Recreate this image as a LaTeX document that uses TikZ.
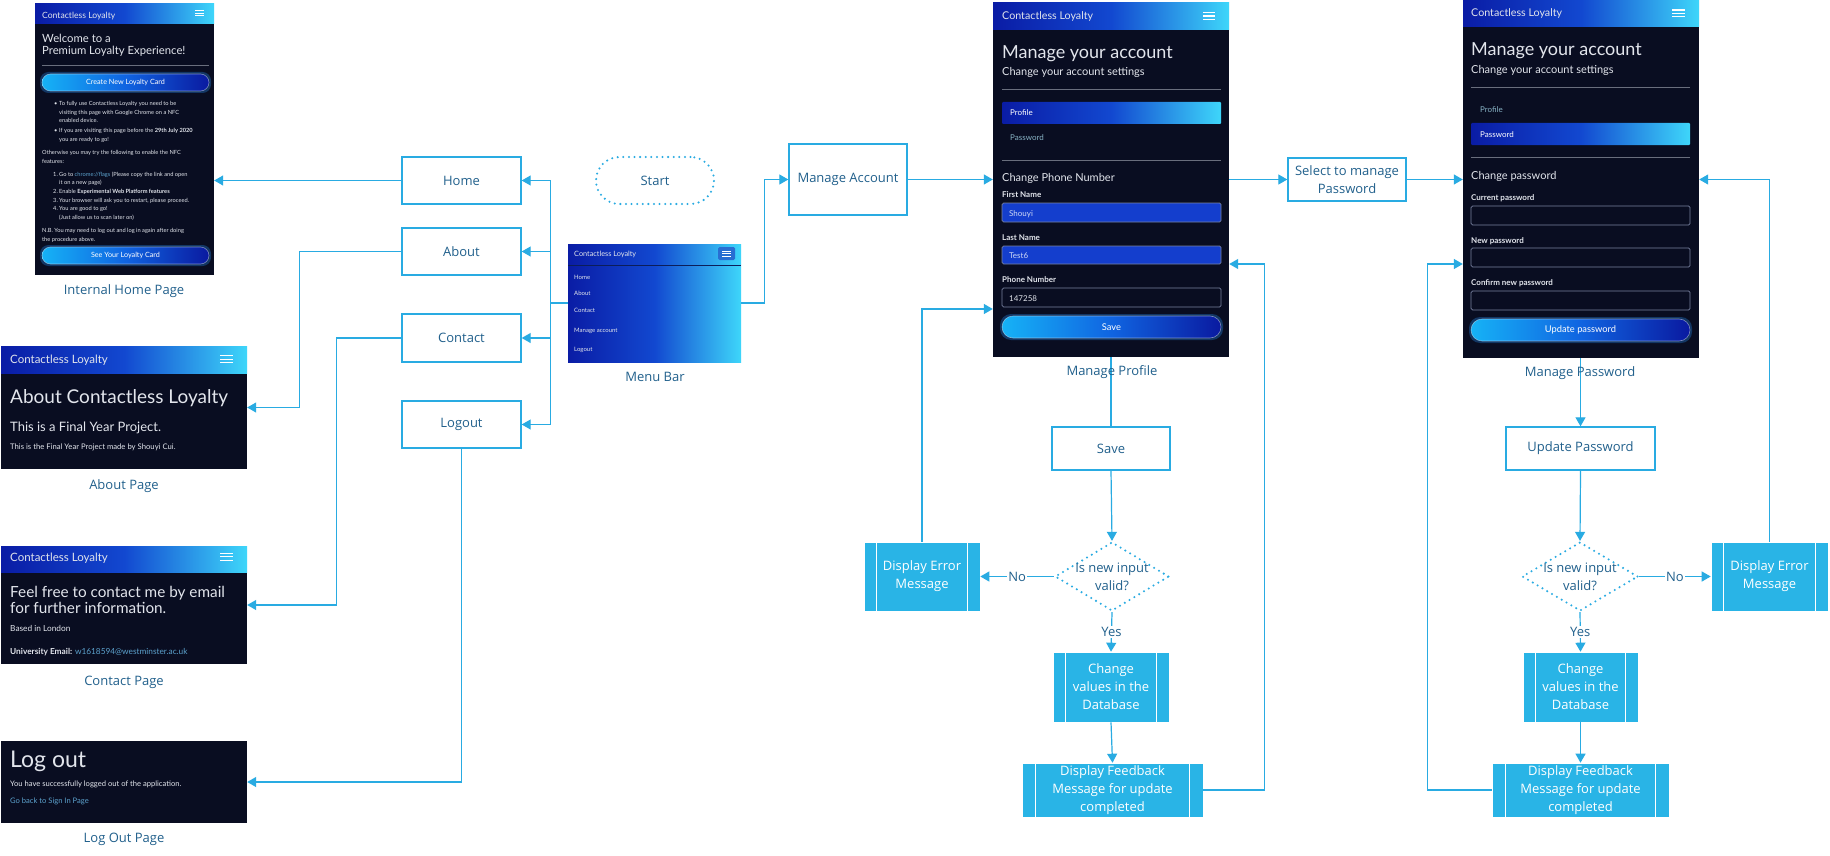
\documentclass[tikz,border=0pt]{standalone}
\usepackage{fontspec}
\setmainfont{Open Sans}
\newfontfamily\ui{Lato}
\usetikzlibrary{arrows.meta,shapes.geometric,calc}

\definecolor{lblue}{RGB}{41,171,226}
\definecolor{fblue}{RGB}{41,180,230}
\definecolor{tblue}{RGB}{33,96,140}
\definecolor{bg}{RGB}{9,13,33}
\definecolor{hdark}{RGB}{10,28,165}
\definecolor{hmid}{RGB}{18,72,208}
\definecolor{hlight}{RGB}{62,214,250}
\definecolor{bcyan}{RGB}{22,178,246}
\definecolor{bmid}{RGB}{16,100,225}
\definecolor{bdark}{RGB}{10,26,160}
\definecolor{uitext}{RGB}{226,229,236}
\definecolor{tabgray}{RGB}{135,178,196}
\definecolor{linkc}{RGB}{92,162,205}
\definecolor{rulec}{RGB}{105,110,125}
\definecolor{fieldb}{RGB}{20,62,205}
\definecolor{fieldln}{RGB}{120,130,160}
\definecolor{glowc}{RGB}{40,150,255}
\definecolor{burgerbg}{RGB}{40,110,210}
\definecolor{sepline}{RGB}{12,30,90}
\definecolor{fieldtxt}{RGB}{205,215,245}

\newcommand\uif[1]{\ui\fontsize{#1}{#1}\selectfont}
\newcommand\lblfont{\fontsize{13}{18}\selectfont}

% pill-shaped gradient button: name, x1, y1, x2, y2, radius, label, font size
\newcommand\pill[8]{%
  \fill[glowc, opacity=0.3, rounded corners=#6] (#2-2,#3-2) rectangle (#4+2,#5+2);
  \shade[btn, rounded corners=#6] (#2,#3) rectangle (#4,#5);
  \draw[white, opacity=0.45, line width=0.6pt, rounded corners=#6] (#2,#3) rectangle (#4,#5);
  \node[font=\uif{#8}, text=white, inner sep=0pt] (#1) at ({(#2+#4)/2},{(#3+#5)/2}) {#7};}
% input field: x1, y1, x2, y2, fill, border
\newcommand\field[6]{%
  \filldraw[fill=#5, draw=#6, line width=0.7pt, rounded corners=1.5pt] (#1,#2) rectangle (#3,#4);}
% hamburger icon: x1, x2, three line heights
\newcommand\burger[5]{%
  \foreach \hy in {#3,#4,#5} \draw[white, line width=1.1pt] (#1,\hy) -- (#2,\hy);}
% side bars of a predefined-process box
\newcommand\predlines[2]{%
  \draw[white, line width=1pt] ([xshift=#2]#1.north west) -- ([xshift=#2]#1.south west)
    ([xshift=-#2]#1.north east) -- ([xshift=-#2]#1.south east);}

\tikzset{
  proc/.style={draw=lblue, line width=1.4pt, fill=white, text=tblue, font=\lblfont, align=center, inner sep=0pt},
  pred/.style={draw=white, line width=0.6pt, fill=fblue, text=white, font=\lblfont, align=center, inner sep=0pt},
  conn/.style={draw=lblue, line width=1.2pt},
  arr/.style={conn, -{Triangle[width=10pt,length=9pt]}},
  lbl/.style={text=tblue, font=\lblfont, inner sep=0pt},
  dotline/.style={draw=lblue, line width=2.3pt, line cap=round, dash pattern=on 0pt off 5.6pt},
  shot/.style={fill=bg, draw=none, inner sep=0pt},
  ut/.style={anchor=base west, inner sep=0pt, text=uitext},
  hdr/.style={left color=hdark, right color=hlight, middle color=hmid},
  btn/.style={left color=bcyan, right color=bdark, middle color=bmid},
  hr/.style={draw=rulec, line width=0.9pt},
}

\begin{document}
\begin{tikzpicture}[x=1pt,y=-1pt]
\useasboundingbox[fill=white] (0,0) rectangle (1830,856);

%% ---------- Internal home page ----------
\node[shot, minimum width=179pt, minimum height=271pt] (hp) at (124.5,139.5) {};
\shade[hdr] (35,4) rectangle (214,24);
\node[ut, font=\uif{8.6}] (hpt) at (42,18.5) {Contactless Loyalty};
\burger{195}{204}{10.7}{13.2}{15.7}
\node[ut, font=\uif{11.3}] (hpw1) at (42,43) {Welcome to a};
\node[ut, font=\uif{11.3}] (hpw2) at (42,55) {Premium Loyalty Experience!};
\draw[hr] (42,65) -- (209,65);
\pill{hpb1}{42}{74}{209}{91}{8.5pt}{Create New Loyalty Card}{7.2}
\foreach \yy/\xx/\txt [count=\i] in {
  106/59/{To fully use Contactless Loyalty you need to be},
  115/59/{visiting this page with Google Chrome on a NFC},
  123/59/{enabled device.},
  132/59/{If you are visiting this page before the \textbf{29th July 2020}},
  141/59/{you are ready to go!},
  154/42/{Otherwise you may try the following to enable the NFC},
  163/42/{features:},
  176/59/{Go to \textcolor{linkc}{chrome://flags} (Please copy the link and open},
  184/59/{it on a new page)},
  193/59/{Enable \textbf{Experimental Web Platform features}},
  202/59/{Your browser will ask you to restart, please proceed.},
  210/59/{You are good to go!},
  219/59/{(Just allow us to scan later on)},
  232/42/{N.B. You may need to log out and log in again after doing},
  241/42/{the procedure above.}}
  \node[ut, font=\uif{5.7}] (hl\i) at (\xx,\yy) {\txt};
\foreach \yy [count=\i] in {106,132}
  \node[ut, font=\uif{5.7}] (hb\i) at (54,\yy) {\textbullet};
\foreach \yy [count=\i] in {176,193,202,210}
  \node[ut, font=\uif{5.7}] (hn\i) at (53,\yy) {\i.};
\pill{hpb2}{42}{247}{209}{264}{8.5pt}{See Your Loyalty Card}{7.2}
\node[lbl] (hpc) at (124,291) {Internal Home Page};

%% ---------- About page ----------
\node[shot, minimum width=246pt, minimum height=123pt] (ap) at (124,407.5) {};
\shade[hdr] (1,346) rectangle (247,373);
\node[ut, font=\uif{11.5}] (apt) at (10,363) {Contactless Loyalty};
\burger{220}{233}{355.7}{359.3}{362.9}
\node[ut, font=\uif{19}] (ap1) at (10,403) {About Contactless Loyalty};
\node[ut, font=\uif{13}] (ap2) at (10,431) {This is a Final Year Project.};
\node[ut, font=\uif{7.7}] (ap3) at (10,449) {This is the Final Year Project made by Shouyi Cui.};
\node[lbl] (apc) at (124,486) {About Page};

%% ---------- Contact page ----------
\node[shot, minimum width=246pt, minimum height=118pt] (cp) at (124,605) {};
\shade[hdr] (1,546) rectangle (247,572);
\node[ut, font=\uif{11.5}] (cpt) at (10,561) {Contactless Loyalty};
\burger{220}{233}{553.3}{556.8}{560.3}
\node[ut, font=\uif{15.3}] (cp1) at (10,597.5) {Feel free to contact me by email};
\node[ut, font=\uif{15.3}] (cp2) at (10,613.5) {for further information.};
\node[ut, font=\uif{8.3}] (cp3) at (10,631) {Based in London};
\node[ut, font=\uif{8.3}] (cp4) at (10,654) {\textbf{University Email:} \textcolor{linkc}{w1618594@westminster.ac.uk}};
\node[lbl] (cpc) at (124,682) {Contact Page};

%% ---------- Log out page ----------
\node[shot, minimum width=246pt, minimum height=82pt] (lp) at (124,782) {};
\node[ut, font=\uif{23}] (lp1) at (10,767) {Log out};
\node[ut, font=\uif{7.6}] (lp2) at (10,786) {You have successfully logged out of the application.};
\node[ut, font=\uif{7.6}, text=linkc] (lp3) at (10,803) {Go back to Sign In Page};
\node[lbl] (lpc) at (124,839) {Log Out Page};

%% ---------- Menu bar ----------
\node[inner sep=0pt, minimum width=173pt, minimum height=118pt, hdr] (mb) at (654.5,303) {};
\draw[sepline, line width=1pt] (568,265) -- (741,265);
\node[ut, font=\uif{7.3}] (mbt) at (574,256.5) {Contactless Loyalty};
\fill[burgerbg, rounded corners=1.5pt] (718,247) rectangle (735,260);
\foreach \hy in {251,253.5,256} \draw[white, line width=0.8pt] (722,\hy) -- (731,\hy);
\foreach \yy/\txt [count=\i] in {279/Home, 295/About, 312/Contact, 332/Manage account, 351/Logout}
  \node[ut, font=\uif{6}] (mi\i) at (574,\yy) {\txt};
\node[lbl] (mbc) at (655,377) {Menu Bar};

%% ---------- Manage profile page ----------
\node[shot, minimum width=236pt, minimum height=354pt] (mp) at (1111,180) {};
\shade[hdr] (993,3) rectangle (1229,30);
\node[ut, font=\uif{10.7}] (mpt) at (1002,20) {Contactless Loyalty};
\burger{1203}{1215}{12.7}{16}{19.3}
\node[ut, font=\uif{18}] (mp1) at (1002,58.5) {Manage your account};
\node[ut, font=\uif{11}] (mp2) at (1002,76) {Change your account settings};
\draw[hr] (1002,89) -- (1221,89);
\shade[hdr, rounded corners=1pt] (1002,102) rectangle (1221,124);
\node[ut, font=\uif{8}, text=white] (mp3) at (1010,116) {Profile};
\node[ut, font=\uif{8}, text=tabgray] (mp4) at (1010,140) {Password};
\draw[hr] (1002,160) -- (1221,160);
\node[ut, font=\uif{11}] (mp5) at (1002,181) {Change Phone Number};
\node[ut, font=\uif{8}] (mp6) at (1002,197) {\textbf{First Name}};
\field{1002}{203}{1221}{222}{fieldb}{fieldln}
\node[ut, font=\uif{8}, text=fieldtxt] (mp7) at (1009,216) {Shouyi};
\node[ut, font=\uif{8}] (mp8) at (1002,240) {\textbf{Last Name}};
\field{1002}{246}{1221}{264}{fieldb}{fieldln}
\node[ut, font=\uif{8}, text=fieldtxt] (mp9) at (1009,258) {Test6};
\node[ut, font=\uif{8}] (mp10) at (1002,282) {\textbf{Phone Number}};
\field{1002}{288}{1221}{307}{bg}{fieldln}
\node[ut, font=\uif{8}] (mp11) at (1009,301) {147258};
\pill{mpb}{1002}{316}{1221}{338}{11pt}{Save}{9.3}

%% ---------- Manage password page ----------
\node[shot, minimum width=236pt, minimum height=357pt] (mpw) at (1581,179.5) {};
\shade[hdr] (1463,1) rectangle (1699,27);
\node[ut, font=\uif{10.7}] (mwt) at (1471,17) {Contactless Loyalty};
\burger{1672}{1685}{10}{13.3}{16.7}
\node[ut, font=\uif{18}] (mw1) at (1471,55.5) {Manage your account};
\node[ut, font=\uif{11}] (mw2) at (1471,74) {Change your account settings};
\draw[hr] (1471,87) -- (1690,87);
\node[ut, font=\uif{8}, text=tabgray] (mw3) at (1480,113) {Profile};
\shade[hdr, rounded corners=1pt] (1471,123) rectangle (1690,145);
\node[ut, font=\uif{8}, text=white] (mw4) at (1480,137) {Password};
\draw[hr] (1471,157) -- (1690,157);
\node[ut, font=\uif{11}] (mw5) at (1471,179) {Change password};
\node[ut, font=\uif{8}] (mw6) at (1471,200) {\textbf{Current password}};
\field{1471}{206}{1690}{225}{bg}{fieldln}
\node[ut, font=\uif{8}] (mw7) at (1471,243) {\textbf{New password}};
\field{1471}{248}{1690}{267}{bg}{fieldln}
\node[ut, font=\uif{8}] (mw8) at (1471,285) {\textbf{Confirm new password}};
\field{1471}{291}{1690}{310}{bg}{fieldln}
\pill{mwb}{1471}{319}{1690}{341}{11pt}{Update password}{9.3}

%% ---------- Flowchart nodes ----------
\node[proc, minimum width=119pt, minimum height=47pt] (home) at (461.5,180.5) {Home};
\node[proc, minimum width=119pt, minimum height=47pt] (about) at (461.5,251.5) {About};
\node[proc, minimum width=119pt, minimum height=48pt] (contact) at (461.5,338) {Contact};
\node[proc, minimum width=119pt, minimum height=47pt] (logout) at (461.5,424.5) {Logout};
\node[dotline, rounded corners=23.5pt, minimum width=118pt, minimum height=47pt, text=tblue, font=\lblfont] (start) at (655,180.5) {Start};
\node[proc, minimum width=118pt, minimum height=71pt] (macc) at (848,179.5) {Manage Account};
\node[proc, minimum width=118pt, minimum height=43pt] (sel) at (1347,179.5) {Select to manage\\Password};
\node[proc, minimum width=118pt, minimum height=43pt] (save) at (1111,448.5) {Save};
\node[proc, minimum width=149pt, minimum height=43pt] (upd) at (1580.5,448.5) {Update Password};

\node[diamond, dotline, minimum width=114pt, minimum height=69pt, inner sep=0pt,
  label={[lbl, align=center]center:Is new input\\valid?}] (d1) at (1112,576.5) {};
\node[diamond, dotline, minimum width=116pt, minimum height=69pt, inner sep=0pt,
  label={[lbl, align=center]center:Is new input\\valid?}] (d2) at (1580,576.5) {};

\node[pred, minimum width=116pt, minimum height=69pt] (e1) at (922,576.5) {Display Error\\Message};
\node[pred, minimum width=117pt, minimum height=69pt] (e2) at (1769.5,576.5) {Display Error\\Message};
\node[pred, minimum width=116pt, minimum height=70pt] (c1) at (1111,687) {Change\\values in the\\Database};
\node[pred, minimum width=115pt, minimum height=70pt] (c2) at (1580.5,687) {Change\\values in the\\Database};
\node[pred, minimum width=181pt, minimum height=54pt] (f1) at (1112.5,790) {Display Feedback\\Message for update\\completed};
\node[pred, minimum width=177pt, minimum height=54pt] (f2) at (1580.5,790) {Display Feedback\\Message for update\\completed};
\predlines{e1}{13pt}
\predlines{e2}{13pt}
\predlines{c1}{13pt}
\predlines{c2}{13pt}
\predlines{f1}{14pt}
\predlines{f2}{14pt}

%% ---------- Connectors ----------
% menu bar fans out to the page buttons
\draw[conn] (mb.west) -- ++(-17,0) coordinate (trunk);
\draw[arr] (trunk) |- (home.east);
\draw[arr] (trunk) |- (about.east);
\draw[arr] (trunk) |- (contact.east);
\draw[arr] (trunk) |- (logout.east);
% buttons lead to their pages
\draw[arr] (home.west) -- (home.west -| hp.east);
\draw[arr] (about.west) -- ++(-102,0) |- (ap.east);
\draw[arr] (contact.west) -- ++(-65,0) |- (cp.east);
\draw[arr] (logout.south) |- (lp.east);
% account management
\draw[arr] (mb.east) -- ++(23,0) |- (macc.west);
\draw[arr] (macc.east) -- (macc.east -| mp.west);
\draw[arr] (sel.west -| mp.east) -- (sel.west);
\draw[arr] (sel.east) -- (sel.east -| mpw.west);

% profile flow
\draw[conn] (save.north |- mp.south) -- (save.north);
\draw[arr] (save.south) -- (d1.north);
\draw[arr] (d1.west) -- node[fill=white, lbl, inner sep=1.5pt] (no1) {No} (e1.east);
\draw[arr] (d1.south) -- node[fill=white, lbl, inner sep=1.5pt] (yes1) {Yes} (c1.north);
\draw[arr] (c1.south) -- (f1.north);
\draw[arr] (e1.north) |- (mp.west |- 0,309);
\draw[arr] (f1.east) -- ++(61,0) |- (mp.east |- 0,264);

% password flow
\draw[arr] (upd.north |- mpw.south) -- (upd.north);
\draw[arr] (upd.south) -- (d2.north);
\draw[arr] (d2.east) -- node[fill=white, lbl, inner sep=1.5pt] (no2) {No} (e2.west);
\draw[arr] (d2.south) -- node[fill=white, lbl, inner sep=1.5pt] (yes2) {Yes} (c2.north);
\draw[arr] (c2.south) -- (f2.north);
\draw[arr] (e2.north) |- (mpw.east);
\draw[arr] (f2.west) -- ++(-64,0) |- (mpw.west |- 0,264);

% captions under the account pages sit on top of the connector
\node[lbl] (mpc) at (1112,372) {Manage Profile};
\node[lbl] (mwc) at (1580,373) {Manage Password};
\end{tikzpicture}
\end{document}
